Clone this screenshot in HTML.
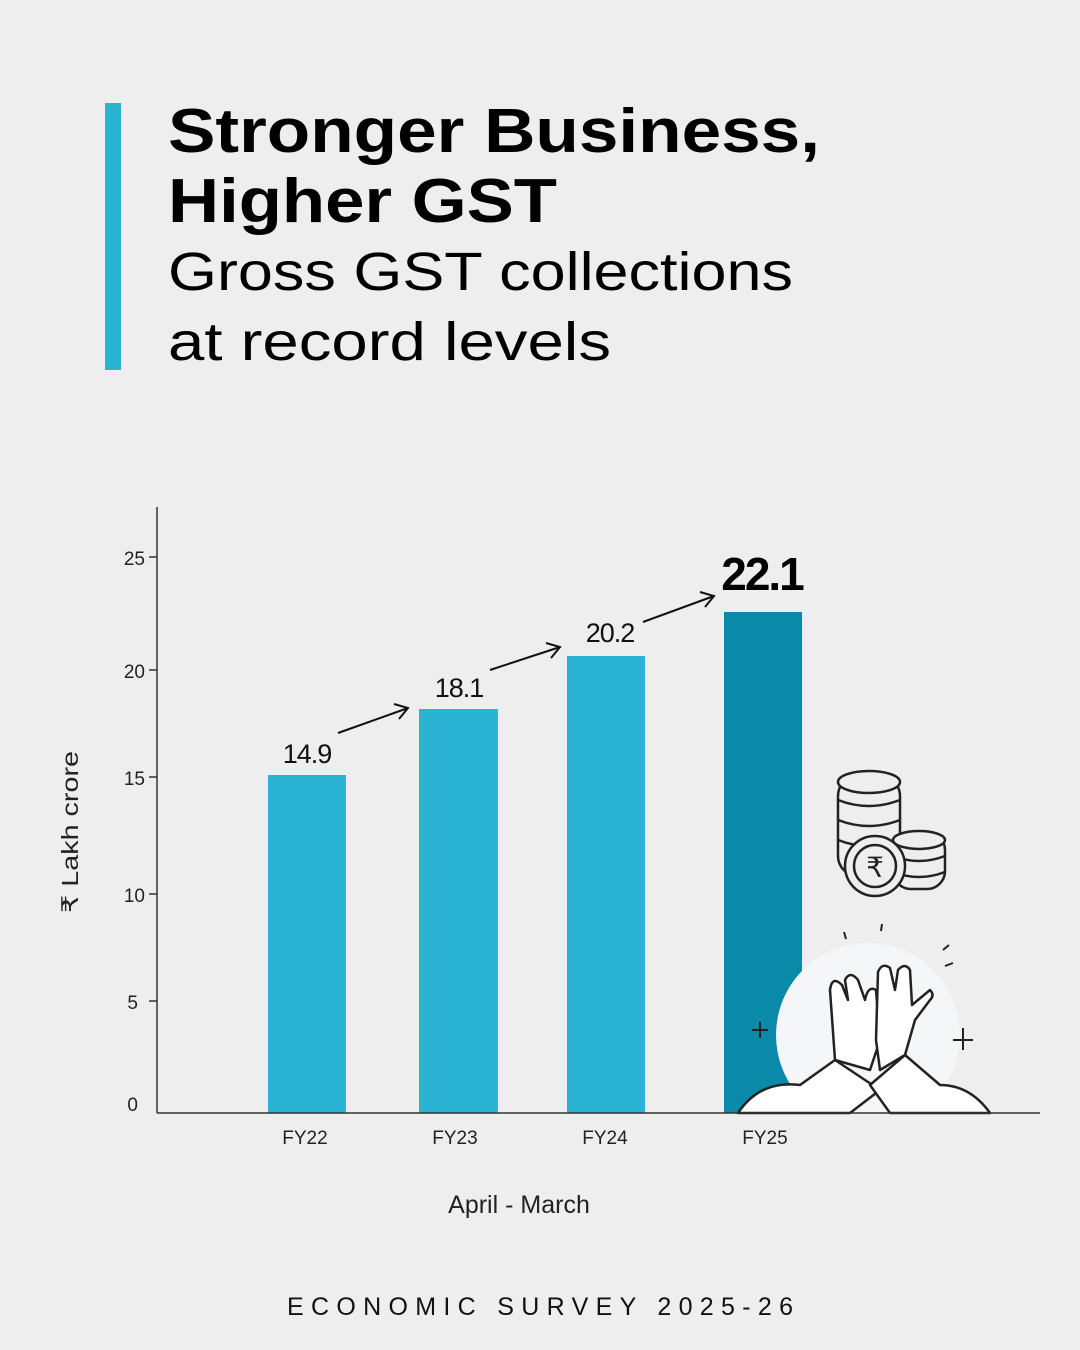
<!DOCTYPE html>
<html><head><meta charset="utf-8"><style>
body{margin:0;width:1080px;height:1350px;background:#eeeeee;overflow:hidden;font-family:"Liberation Sans",sans-serif}
</style></head><body>
<svg width="1080" height="1350" viewBox="0 0 1080 1350" xmlns="http://www.w3.org/2000/svg" style="position:absolute;left:0;top:0">
<defs><clipPath id="c"><rect x="0" y="0" width="1080" height="1113"/></clipPath></defs>
<rect x="105" y="103" width="16" height="267" fill="#2bb3d4"/>
<g font-family="Liberation Sans, sans-serif" fill="#000">
<text x="168" y="152" font-size="62" font-weight="bold" textLength="652" lengthAdjust="spacingAndGlyphs">Stronger Business,</text>
<text x="168" y="222" font-size="62" font-weight="bold" textLength="389" lengthAdjust="spacingAndGlyphs">Higher GST</text>
<text x="168" y="290" font-size="54" textLength="625" lengthAdjust="spacingAndGlyphs">Gross GST collections</text>
<text x="168" y="360" font-size="54" textLength="443" lengthAdjust="spacingAndGlyphs">at record levels</text>
</g>
<g stroke="#333" stroke-width="1.5">
<line x1="157" y1="507" x2="157" y2="1113"/>
<line x1="149" y1="557" x2="157" y2="557"/>
<line x1="149" y1="670" x2="157" y2="670"/>
<line x1="149" y1="777" x2="157" y2="777"/>
<line x1="149" y1="894" x2="157" y2="894"/>
<line x1="149" y1="1001" x2="157" y2="1001"/>
</g>
<g font-size="19" fill="#222" text-anchor="end">
<text x="145" y="565">25</text><text x="145" y="678">20</text><text x="145" y="785">15</text>
<text x="145" y="902">10</text><text x="138" y="1009">5</text><text x="138" y="1111">0</text>
</g>
<text transform="translate(78,832) rotate(-90)" text-anchor="middle" font-size="23" fill="#222" textLength="162" lengthAdjust="spacingAndGlyphs">₹ Lakh crore</text>
<rect x="268" y="775" width="78" height="338" fill="#2bb3d4"/>
<rect x="419" y="709" width="79" height="404" fill="#2bb3d4"/>
<rect x="567" y="656" width="78" height="457" fill="#2bb3d4"/>
<rect x="724" y="612" width="78" height="501" fill="#0a8aa8"/>
<g font-size="27" fill="#111" text-anchor="middle" letter-spacing="-1">
<text x="307" y="763">14.9</text><text x="459" y="697">18.1</text><text x="610" y="642">20.2</text>
</g>
<text x="762" y="590" font-size="46" font-weight="bold" text-anchor="middle" letter-spacing="-2">22.1</text>
<g stroke="#111" stroke-width="2" fill="none">
<path d="M338 733 L408 708 M394 704 L408 708 L399 719"/>
<path d="M490 670 L560 647 M546 643 L560 647 L551 658"/>
<path d="M643 622 L714 596 M700 592 L714 596 L705 607"/>
</g>
<g font-size="19" fill="#222" text-anchor="middle">
<text x="305" y="1144">FY22</text><text x="455" y="1144">FY23</text><text x="605" y="1144">FY24</text><text x="765" y="1144">FY25</text>
</g>
<text x="519" y="1213" font-size="25" fill="#222" text-anchor="middle">April - March</text>
<text x="540" y="1315" font-size="25" fill="#111" text-anchor="middle" textLength="506" lengthAdjust="spacing">ECONOMIC SURVEY 2025-26</text>
<g clip-path="url(#c)">
<circle cx="868" cy="1035" r="92" fill="#f5f6f8"/>
</g>
<g stroke="#222" stroke-width="2.5" fill="#eeeeee">
<rect x="838" y="776" width="62" height="100" rx="20"/>
<ellipse cx="869" cy="782" rx="31" ry="11"/>
<path d="M838 800 Q869 812 900 800 M838 820 Q869 832 900 820 M838 840 Q869 852 900 840" fill="none"/>
<rect x="893" y="832" width="52" height="57" rx="18"/>
<ellipse cx="919" cy="840" rx="26" ry="9"/>
<path d="M893 856 Q919 866 945 856 M893 872 Q919 882 945 872" fill="none"/>
<circle cx="875" cy="866" r="30"/>
<circle cx="875" cy="866" r="21"/>
</g>
<text x="875" y="877" font-size="28" text-anchor="middle" fill="#222">₹</text>
<g stroke="#222" stroke-width="2.5" fill="#fff" stroke-linejoin="round">
<path d="M738 1113 Q760 1080 800 1085 L835 1060 L880 1090 L850 1113 Z"/>
<path d="M990 1113 Q970 1085 940 1085 L905 1055 L870 1085 L890 1113 Z"/>
<path d="M835 1060 L830 990 Q832 975 842 985 L848 1000 L845 980 Q850 970 858 980 L865 1000 Q868 985 876 990 L880 1040 L870 1070 Z"/>
<path d="M905 1055 L915 1020 L930 1000 Q935 995 930 990 L912 1005 L910 970 Q905 962 898 970 L895 990 L890 968 Q882 962 878 972 L876 1040 L880 1070 Z"/>
</g>
<line x1="157" y1="1113" x2="1040" y2="1113" stroke="#333" stroke-width="1.5"/>
<g stroke="#222" stroke-width="2" fill="none">
<path d="M760 1022 l0 16 M752 1030 l16 0"/>
<path d="M963 1028 l0 22 M953 1040 l20 0"/>
<path d="M844 932 l2 7 M882 924 l-1 7 M943 950 l6 -5 M945 966 l8 -3"/>
</g>
</svg>
</body></html>
